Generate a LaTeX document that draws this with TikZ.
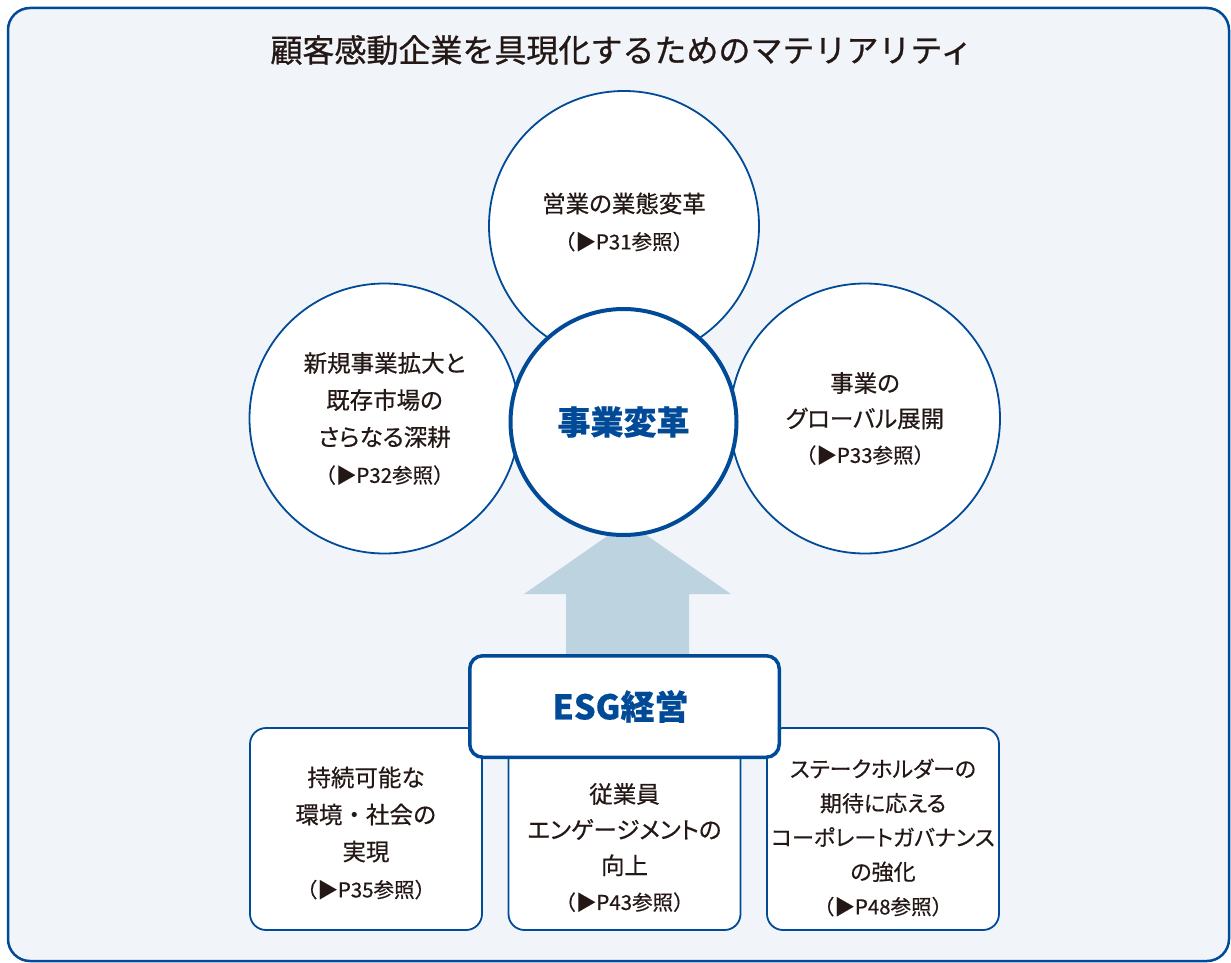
\documentclass[tikz,border=0pt]{standalone}
\usepackage{fontspec}
\setmainfont[RawFeature=+palt, FakeBold=0.5]{Noto Sans CJK JP}
\newfontfamily\fulljp[FakeBold=0.5]{Noto Sans CJK JP}
\newfontfamily\titlejp[FakeBold=0.8]{Noto Sans CJK JP}
\definecolor{navy}{HTML}{004A97}
\definecolor{bgc}{HTML}{F1F5F9}
\definecolor{arr}{HTML}{BDD4E0}
\definecolor{ink}{HTML}{231815}
\newcommand{\bodyfont}{\fontsize{23.5}{37}\selectfont}
\newcommand{\reff}{\fulljp\fontsize{20.5}{37}\selectfont}
\begin{document}
\begin{tikzpicture}[x=1pt,y=-1pt,
  outerc/.style={circle, draw=navy, line width=1.8pt, fill=white, minimum size=270pt, inner sep=0pt, align=center, text=ink, font=\bodyfont},
  corec/.style={circle, draw=navy, line width=4pt, fill=white, minimum size=226pt, inner sep=0pt, text=navy, font=\bfseries\fontsize{33}{38}\selectfont},
  pbox/.style={draw=navy, line width=1.8pt, fill=white, rounded corners=16pt, minimum width=232pt, minimum height=202pt, inner sep=0pt},
  ptext/.style={align=center, text=ink, font=\bodyfont, inner sep=0pt},
  esgbox/.style={draw=navy, line width=3.5pt, fill=white, rounded corners=13pt, minimum width=309.5pt, minimum height=101.5pt, inner sep=0pt, text=navy, font=\bfseries\fontsize{34}{38}\selectfont},
  uparrow/.style={fill=arr, draw=none}]
\useasboundingbox (0,0) rectangle (1231,963);
% frame
\draw[navy, line width=2.5pt, fill=bgc, rounded corners=22pt] (8,8) rectangle (1229,961);
% title
\node[text=ink, font=\titlejp\fontsize{32}{36}\selectfont, inner sep=0pt] (title) at (621.5,50) {顧客感動企業を具現化するためのマテリアリティ};
% outer circles
\node[outerc] (top) at (624,226) {};
\node[ptext] (toptext) at (624,222) {営業の業態変革\\{\reff （▶P31参照）}};
\node[outerc] (left) at (384.5,418.5) {新規事業拡大と\\既存市場の\\さらなる深耕\\{\reff （▶P32参照）}};
\node[outerc, font=\fontsize{23.5}{35.5}\selectfont] (right) at (865,418.5) {事業の\\グローバル展開\\{\fulljp\fontsize{20.5}{35.5}\selectfont （▶P33参照）}};
% arrow
\path[uparrow] (566,656) -- (566,594) -- (524,594) -- (627.5,522) -- (731,594) -- (689,594) -- (689,656) -- cycle;
% core circle
\node[corec] (core) at (623.5,422) {事業変革};
% bottom boxes
\node[pbox] (b1) at (366,829) {};
\node[pbox] (b2) at (624.5,829) {};
\node[pbox] (b3) at (883,829) {};
\node[ptext] (t1) at (366,833) {持続可能な\\{\fulljp 環境・社会の}\\実現\\{\reff （▶P35参照）}};
\node[ptext, font=\fontsize{23.5}{35.7}\selectfont] (t2) at (624.5,847.5) {従業員\\エンゲージメントの\\向上\\{\fulljp\fontsize{20.5}{35.7}\selectfont （▶P43参照）}};
\node[ptext, font=\fontsize{22}{34.3}\selectfont] (t3) at (883,837.5) {ステークホルダーの\\期待に応える\\コーポレートガバナンス\\の強化\\{\fulljp\fontsize{20.5}{34.3}\selectfont （▶P48参照）}};
% ESG box
\node[esgbox] (esg) at (624.5,706.5) {ESG経営\hspace*{8pt}};
\end{tikzpicture}
\end{document}
